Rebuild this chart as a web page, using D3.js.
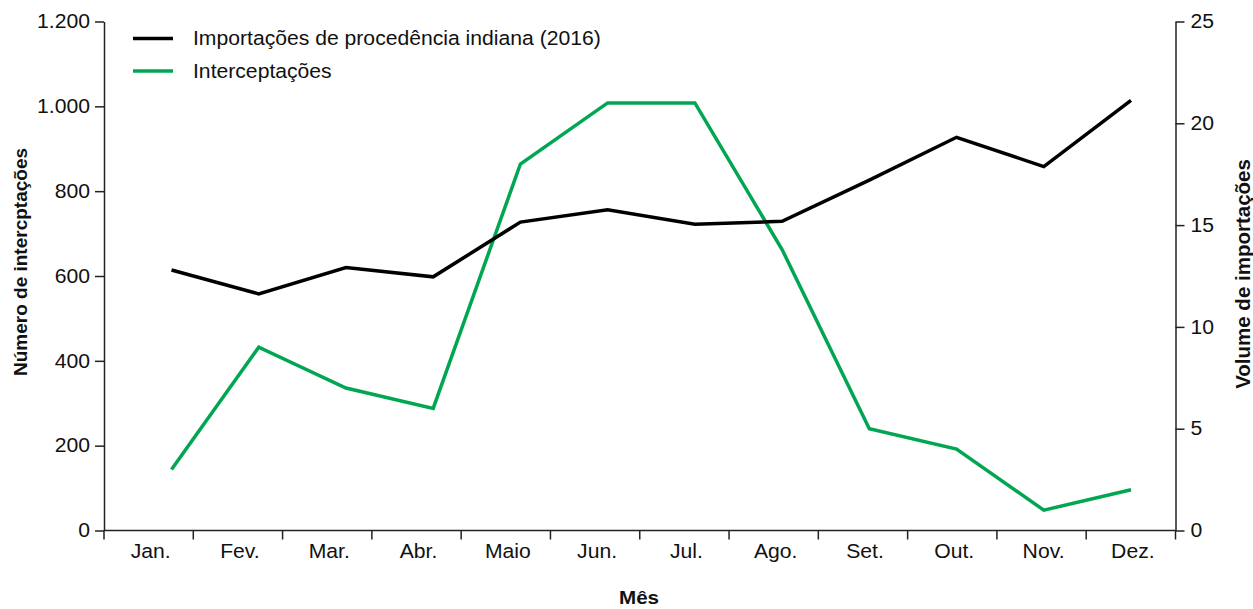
<!DOCTYPE html>
<html>
<head>
<meta charset="utf-8">
<script src="https://cdn.jsdelivr.net/npm/d3@7"></script>
<style>
  body { margin: 0; background: #fff; }
  svg text { font-family: "Liberation Sans", Arial, sans-serif; fill: #111; }
  .axis path, .axis line { stroke: #222; stroke-width: 1.5; }
</style>
</head>
<body>
<svg id="chart" width="1253" height="609"></svg>
<script>
const months = ["Jan.", "Fev.", "Mar.", "Abr.", "Maio", "Jun.", "Jul.", "Ago.", "Set.", "Out.", "Nov.", "Dez."];
// black line, read against the left axis
const importacoes = [614, 558, 620, 598, 727, 756, 722, 729, 826, 927, 858, 1014];
// green line, read against the right axis
const interceptacoes = [3, 9, 7, 6, 18, 21, 21, 13.8, 5, 4, 1, 2];
const leftTicks = [0, 200, 400, 600, 800, 1000, 1200];
const rightTicks = [0, 5, 10, 15, 20, 25];

const svg = d3.select("#chart");
const x0 = 104, x1 = 1175.5, yTop = 21.5, yBot = 530.5;
const fs = "19.5px";
const stretch = "scale(1.085,1)"; // reference text is a little wide

const xBand = d3.scaleBand().domain(months).range([x0, x1]);
const xPt = d3.scalePoint().domain(months).range([x0 + 67.5, x1 - 44.5]);
const yL = d3.scaleLinear().domain([0, 1200]).range([yBot, yTop]);
const yR = d3.scaleLinear().domain([0, 25]).range([yBot, yTop]);

const fmt = d => d3.format(",")(d).replace(/,/g, ".");

// left axis
const gL = svg.append("g").attr("class", "axis")
  .attr("transform", `translate(${x0},0)`)
  .call(d3.axisLeft(yL).tickValues(leftTicks).tickFormat(fmt).tickSize(9).tickSizeOuter(0));
gL.selectAll("text").attr("x", 0)
  .attr("transform", `translate(-14,0) ${stretch}`)
  .style("font-size", fs);

// right axis
const gR = svg.append("g").attr("class", "axis")
  .attr("transform", `translate(${x1},0)`)
  .call(d3.axisRight(yR).tickValues(rightTicks).tickSize(9).tickSizeOuter(0));
gR.selectAll("text").attr("x", 0)
  .attr("transform", `translate(15,0) ${stretch}`)
  .style("font-size", fs);

// bottom axis: ticks at band edges, labels in band centres
const gB = svg.append("g").attr("class", "axis")
  .attr("transform", `translate(0,${yBot})`);
gB.append("line").attr("x1", x0).attr("x2", x1).attr("y1", 0).attr("y2", 0);
gB.selectAll(".edge")
  .data(months.concat(["end"]))
  .join("line")
  .attr("class", "edge")
  .attr("x1", (d, i) => x0 + i * xBand.step())
  .attr("x2", (d, i) => x0 + i * xBand.step())
  .attr("y1", 0).attr("y2", 9);
gB.selectAll(".lbl")
  .data(months)
  .join("text")
  .attr("class", "lbl")
  .attr("transform", d => `translate(${xBand(d) + xBand.bandwidth() / 2 + 2},27) ${stretch}`)
  .attr("text-anchor", "middle")
  .style("font-size", fs)
  .text(d => d);

// lines
const lineL = d3.line().x((d, i) => xPt(months[i])).y(d => yL(d));
const lineR = d3.line().x((d, i) => xPt(months[i])).y(d => yR(d));

svg.append("path").datum(interceptacoes)
  .attr("d", lineR)
  .attr("fill", "none").attr("stroke", "#00a651").attr("stroke-width", 3.5);
svg.append("path").datum(importacoes)
  .attr("d", lineL)
  .attr("fill", "none").attr("stroke", "#000").attr("stroke-width", 3.5);

// legend
const legend = [
  { name: "Importações de procedência indiana (2016)", color: "#000" },
  { name: "Interceptações", color: "#00a651" }
];
const lg = svg.append("g").attr("transform", "translate(133,38.5)");
lg.selectAll("g").data(legend).join("g")
  .attr("transform", (d, i) => `translate(0,${i * 32.5})`)
  .each(function (d) {
    const g = d3.select(this);
    g.append("line").attr("x1", 0).attr("x2", 40)
      .attr("stroke", d.color).attr("stroke-width", 3.5);
    g.append("text").attr("transform", `translate(60,0) ${stretch}`)
      .attr("dy", "0.35em")
      .style("font-size", fs).text(d.name);
  });

// axis titles
svg.append("text")
  .attr("transform", `translate(27,262) rotate(-90)`)
  .attr("text-anchor", "middle")
  .style("font-size", "19px").style("font-weight", "bold")
  .text("Número de intercptações");
svg.append("text")
  .attr("transform", `translate(1250,274) rotate(-90)`)
  .attr("text-anchor", "middle")
  .style("font-size", "20.5px").style("font-weight", "bold")
  .text("Volume de importações");
svg.append("text")
  .attr("transform", `translate(639,604) ${stretch}`)
  .attr("text-anchor", "middle")
  .style("font-size", "19px").style("font-weight", "bold")
  .text("Mês");
</script>
</body>
</html>
